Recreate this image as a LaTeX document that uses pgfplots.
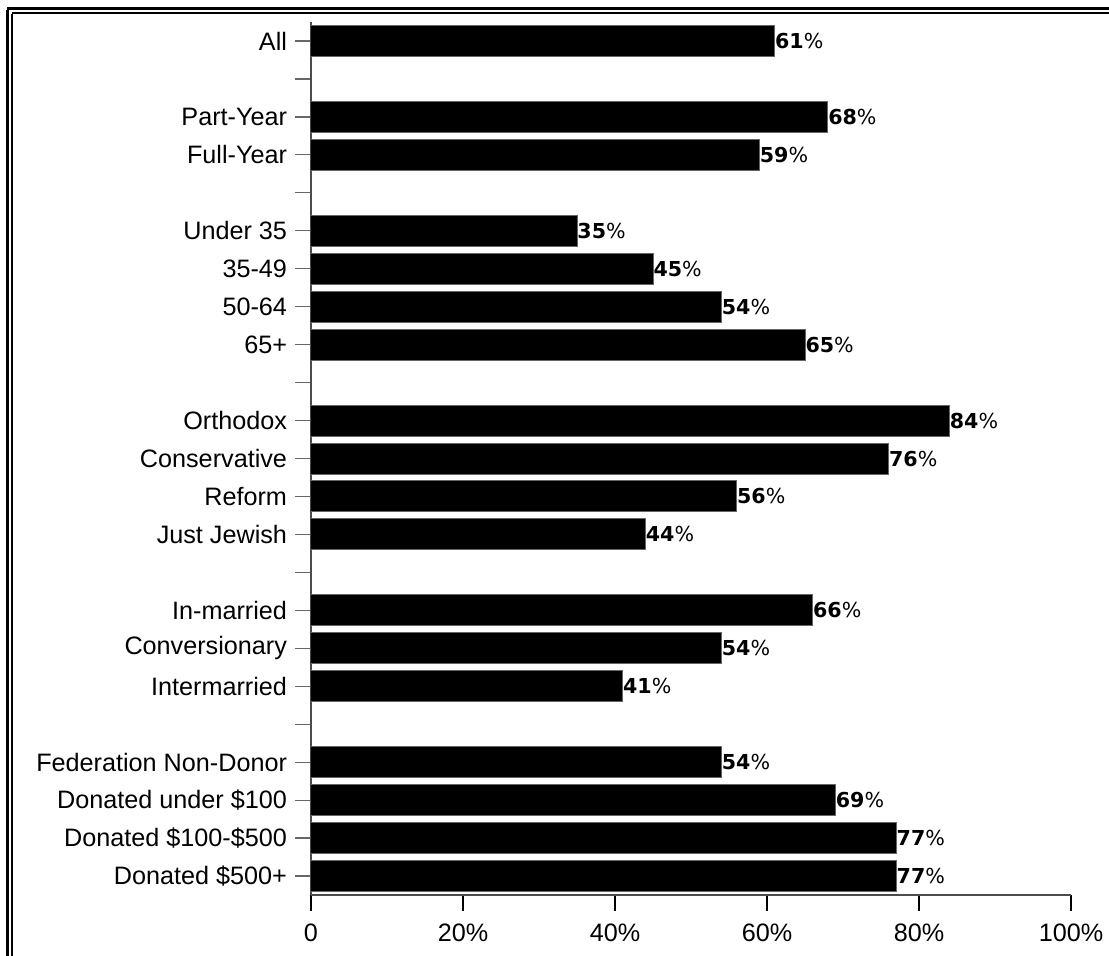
\documentclass[border=0pt]{standalone}
\usepackage{fontspec}
\setmainfont{Liberation Sans}
\newfontfamily\barfont{DejaVu Sans}
\usepackage{pgfplots}
\pgfplotsset{compat=1.18}
\begin{document}
\begin{tikzpicture}
\useasboundingbox (0,0) rectangle (554.5pt,-477.5pt);
% frame (double line, top and left visible)
\draw[line width=1.5pt] (3.5pt,-4pt) -- (600pt,-4pt);
\draw[line width=1.5pt] (3.5pt,-4.75pt) -- (3.5pt,-520pt);
\draw[line width=1pt] (6pt,-6.5pt) -- (600pt,-6.5pt);
\draw[line width=1pt] (6pt,-7pt) -- (6pt,-520pt);
\begin{axis}[
  at={(155.5pt,-11pt)}, anchor=north west,
  scale only axis, width=380pt, height=436.5pt,
  xbar, bar width=15.5pt,
  xmin=0, xmax=100, ymin=-0.5, ymax=22.5,
  axis lines*=left,
  axis line style={black!70, line width=0.6pt},
  xtick={0,20,40,60,80,100},
  xticklabels={0,20\%,40\%,60\%,80\%,100\%},
  ytick={0,...,22},
  yticklabels={Donated \$500+,Donated \$100-\$500,Donated under \$100,Federation Non-Donor,{},Intermarried,Conversionary,In-married,{},Just Jewish,Reform,Conservative,Orthodox,{},65+,50-64,35-49,Under 35,{},Full-Year,Part-Year,{},All},
  tick align=outside,
  major tick length=7.8pt,
  x tick style={black, line width=0.6pt},
  y tick style={black!60, line width=0.6pt},
  tick label style={font=\fontsize{12.6}{15}\selectfont},
  yticklabel style={inner sep=0pt, xshift=-4pt},
  xticklabel style={yshift=-3pt},
  nodes near coords={\barfont\fontsize{10.3}{12}\selectfont\textbf{\pgfmathprintnumber[assume math mode=true]{\pgfplotspointmeta}}\%},
  nodes near coords align={anchor=west},
  every node near coord/.append style={inner xsep=0pt, black},
  point meta=x,
]
\addplot[fill=black, draw=black!60, line width=0.5pt] coordinates {
(61,22) (68,20) (59,19) (35,17) (45,16) (54,15) (65,14)
(84,12) (76,11) (56,10) (44,9) (66,7) (54,6) (41,5)
(54,3) (69,2) (77,1) (77,0)
};
\end{axis}
\end{tikzpicture}
\end{document}
